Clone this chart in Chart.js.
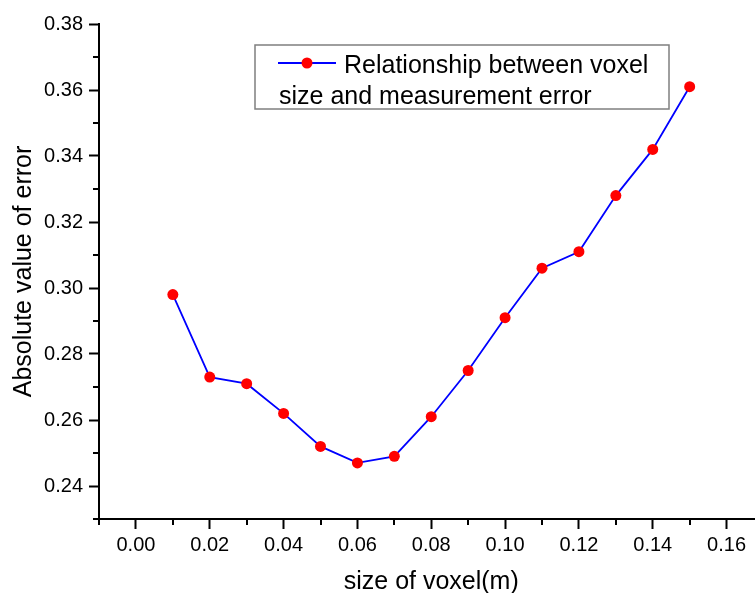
<!DOCTYPE html>
<html>
<head>
<meta charset="utf-8">
<script src="https://cdn.jsdelivr.net/npm/chart.js@4.4.0/dist/chart.umd.min.js"></script>
<style>
  html, body { margin: 0; padding: 0; background: #fff; }
  /* the original axis runs on past the right edge, so the canvas is a bit wider and cut off */
  #wrap { width: 755px; height: 593px; overflow: hidden; }
  #chart { display: block; }
</style>
</head>
<body>
<div id="wrap"><canvas id="chart" width="769" height="593"></canvas></div>
<script>
// values
const voxelSizes = [0.01, 0.02, 0.03, 0.04, 0.05, 0.06, 0.07, 0.08, 0.09, 0.10, 0.11, 0.12, 0.13, 0.14, 0.15];
const errorValues = [0.298, 0.273, 0.271, 0.262, 0.252, 0.247, 0.249, 0.261, 0.275, 0.291, 0.306, 0.311, 0.328, 0.342, 0.361];
const seriesLabel = ['Relationship between voxel', 'size and measurement error'];
const xTitle = 'size of voxel(m)';
const yTitle = 'Absolute value of error';
// tick positions (labels only on every other one)
const xTicks = [-0.01, 0.00, 0.01, 0.02, 0.03, 0.04, 0.05, 0.06, 0.07, 0.08, 0.09, 0.10, 0.11, 0.12, 0.13, 0.14, 0.15, 0.16, 0.17];
const yTicks = [0.23, 0.24, 0.25, 0.26, 0.27, 0.28, 0.29, 0.30, 0.31, 0.32, 0.33, 0.34, 0.35, 0.36, 0.37, 0.38];
const xRange = [-0.01, 0.17];
const yRange = [0.23, 0.38];

const FONT = 'Liberation Sans, Arial, sans-serif';

function isMajor(v) {
  return Math.round(v * 100) % 2 === 0;
}

function evenLabel(v) {
  return isMajor(v) ? v.toFixed(2) : '';
}

function majorColor(ctx) {
  return ctx.tick && isMajor(ctx.tick.value) ? '#000' : 'rgba(0,0,0,0)';
}

// short minor ticks on odd hundredths
const minorTicks = {
  id: 'minorTicks',
  afterDraw(chart) {
    const ctx = chart.ctx;
    const xs = chart.scales.x, ys = chart.scales.y;
    ctx.save();
    ctx.strokeStyle = '#000';
    ctx.lineWidth = 2;
    xs.ticks.forEach(t => {
      if (isMajor(t.value)) return;
      const px = Math.round(xs.getPixelForValue(t.value));
      ctx.beginPath();
      ctx.moveTo(px, xs.top);
      ctx.lineTo(px, xs.top + 6);
      ctx.stroke();
    });
    ys.ticks.forEach(t => {
      if (isMajor(t.value)) return;
      const py = Math.round(ys.getPixelForValue(t.value));
      ctx.beginPath();
      ctx.moveTo(ys.right, py);
      ctx.lineTo(ys.right - 6, py);
      ctx.stroke();
    });
    ctx.restore();
  }
};

// boxed two-line legend like the original
const boxLegend = {
  id: 'boxLegend',
  afterDraw(chart) {
    const ctx = chart.ctx;
    const ds = chart.data.datasets[0];
    ctx.save();
    ctx.strokeStyle = '#7f7f7f';
    ctx.lineWidth = 1.5;
    ctx.strokeRect(255, 45, 414, 64);

    ctx.strokeStyle = ds.borderColor;
    ctx.lineWidth = ds.borderWidth;
    ctx.beginPath();
    ctx.moveTo(278, 63);
    ctx.lineTo(336, 63);
    ctx.stroke();
    ctx.fillStyle = ds.pointBackgroundColor;
    ctx.beginPath();
    ctx.arc(307, 63, ds.pointRadius, 0, Math.PI * 2);
    ctx.fill();

    ctx.fillStyle = '#000';
    ctx.font = '25px ' + FONT;
    ctx.textBaseline = 'alphabetic';
    ctx.textAlign = 'left';
    ctx.fillText(seriesLabel[0], 344, 73);
    ctx.fillText(seriesLabel[1], 279, 104);
    ctx.restore();
  }
};

new Chart(document.getElementById('chart'), {
  type: 'line',
  data: {
    datasets: [{
      label: seriesLabel.join(' '),
      data: voxelSizes.map((x, i) => ({ x: x, y: errorValues[i] })),
      borderColor: '#0000ff',
      borderWidth: 1.8,
      pointBackgroundColor: '#ff0000',
      pointBorderColor: '#ff0000',
      pointBorderWidth: 0,
      pointRadius: 5.5,
      tension: 0,
      fill: false
    }]
  },
  options: {
    responsive: false,
    animation: false,
    layout: { padding: { top: 24, left: 0, right: 0, bottom: 0 } },
    plugins: {
      legend: { display: false },
      tooltip: { enabled: false }
    },
    scales: {
      x: {
        type: 'linear',
        min: xRange[0],
        max: xRange[1],
        afterFit: s => { s.height = 74; },
        afterBuildTicks: s => { s.ticks = xTicks.map(v => ({ value: v })); },
        ticks: {
          autoSkip: false,
          maxRotation: 0,
          padding: 4,
          color: '#000',
          font: { family: FONT, size: 20 },
          callback: evenLabel
        },
        grid: {
          drawOnChartArea: false,
          drawTicks: true,
          tickLength: 10,
          tickWidth: 2,
          tickColor: majorColor
        },
        border: { display: true, color: '#000', width: 2 },
        title: {
          display: true,
          text: xTitle,
          color: '#000',
          font: { family: FONT, size: 25, lineHeight: 1 },
          padding: { top: 0, bottom: -2 }
        }
      },
      y: {
        type: 'linear',
        min: yRange[0],
        max: yRange[1],
        afterFit: s => { s.width = 99; },
        afterBuildTicks: s => { s.ticks = yTicks.map(v => ({ value: v })); },
        ticks: {
          autoSkip: false,
          padding: 6,
          color: '#000',
          font: { family: FONT, size: 20 },
          callback: evenLabel
        },
        grid: {
          drawOnChartArea: false,
          drawTicks: true,
          tickLength: 10,
          tickWidth: 2,
          tickColor: majorColor
        },
        border: { display: true, color: '#000', width: 2 },
        title: {
          display: true,
          text: yTitle,
          color: '#000',
          font: { family: FONT, size: 25, lineHeight: 1 },
          padding: { top: 12, bottom: 0 }
        }
      }
    }
  },
  plugins: [minorTicks, boxLegend]
});
</script>
</body>
</html>
